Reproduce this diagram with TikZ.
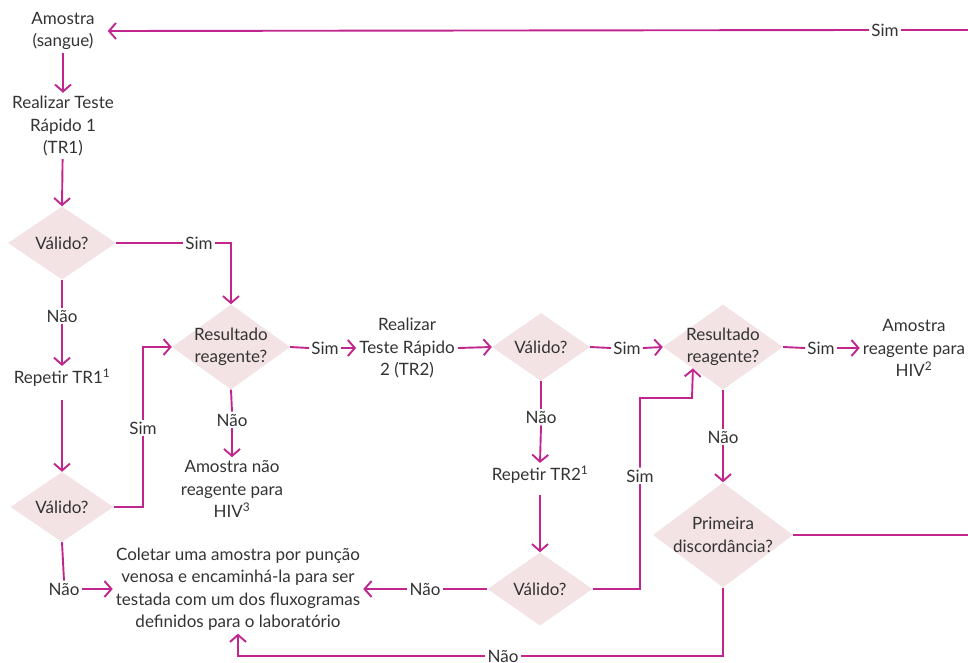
\documentclass[tikz,border=0pt]{standalone}
\usepackage{fontspec}
\setmainfont{Lato}
\usetikzlibrary{arrows.meta,shapes.geometric}
\definecolor{fio}{HTML}{C0268E}
\definecolor{rosa}{HTML}{F3E3E4}
\definecolor{tinta}{HTML}{333333}
\begin{document}
\begin{tikzpicture}[x=1pt,y=-1pt,>={Straight Barb[length=7pt,width=16pt]},
  fluxo/.style={draw=fio,line width=1.9pt},
  passo/.style={align=center,text=tinta,inner sep=3pt,font=\fontsize{17}{22.5}\selectfont},
  rotulo/.style={text=tinta,inner sep=2pt,font=\fontsize{17}{20}\selectfont},
  decisao/.style n args={2}{diamond,fill=rosa,inner sep=0pt,minimum width=#1,minimum height=#2}]
  \useasboundingbox (0,0) rectangle (968,662);

  % Losangos
  \node[decisao={108}{73}] (v1) at (62,243) {};
  \node[decisao={103}{70}] (v2) at (62,507) {};
  \node[decisao={118}{85}] (r1) at (231,347) {};
  \node[decisao={98}{68}] (v3) at (541,347) {};
  \node[decisao={105}{73}] (v4) at (540,589) {};
  \node[decisao={120}{85}] (r2) at (723,347) {};
  \node[decisao={140}{105}] (pd) at (723,535) {};
  \foreach \d in {v1,v2,v3,v4} {
    \node[passo] (\d t) at (\d) {Válido?};
  }
  \node[passo] (r1t) at (r1) {Resultado\\reagente?};
  \node[passo] (r2t) at (r2) {Resultado\\reagente?};
  \node[passo] (pdt) at (pd) {Primeira\\discordância?};

  % Etapas
  \node[passo] (amostra) at (63,31) {Amostra\\(sangue)};
  \node[passo] (tr1) at (63,126) {Realizar Teste\\Rápido 1\\(TR1)};
  \node[passo] (rep1) at (62,378) {Repetir TR1\textsuperscript{1}};
  \node[passo] (nreag) at (232,489) {Amostra não\\reagente para\\HIV\textsuperscript{3}};
  \node[passo] (tr2) at (407,348) {Realizar\\Teste Rápido\\2 (TR2)};
  \node[passo] (rep2) at (540,475) {Repetir TR2\textsuperscript{1}};
  \node[passo] (reag) at (914,348) {Amostra\\reagente para\\HIV\textsuperscript{2}};
  \node[passo] (coletar) at (238,589) {Coletar uma amostra por punção\\venosa e encaminhá-la para ser\\testada com um dos fluxogramas\\definidos para o laboratório};

  % Rotulos
  \node[rotulo] (sim1) at (199,243) {Sim};
  \node[rotulo] (nao1) at (62,316) {Não};
  \node[rotulo] (sim2) at (143,428) {Sim};
  \node[rotulo] (nao2) at (64,589) {Não};
  \node[rotulo] (sim3) at (325,348) {Sim};
  \node[rotulo] (nao3) at (232,420) {Não};
  \node[rotulo] (sim4) at (627,348) {Sim};
  \node[rotulo] (nao4) at (541,417) {Não};
  \node[rotulo] (nao5) at (425,589) {Não};
  \node[rotulo] (sim5) at (640,476) {Sim};
  \node[rotulo] (sim6) at (821,348) {Sim};
  \node[rotulo] (nao6) at (723,437) {Não};
  \node[rotulo] (nao7) at (503,656) {Não};
  \node[rotulo] (sim7) at (885,30) {Sim};

  \coordinate (borda1) at (968,535);
  \coordinate (borda2) at (968,30);
  \coordinate (c5) at (692,398);

  % Ligacoes
  \draw[fluxo,->] (amostra) -- (tr1);
  \draw[fluxo,->] (tr1) -- (v1.north);
  \draw[fluxo] (v1.east) -- (sim1.west);
  \draw[fluxo,->] (sim1.east) -| (r1.north);
  \draw[fluxo] (v1.south) -- (nao1.north);
  \draw[fluxo,->] (nao1.south) -- (rep1.north);
  \draw[fluxo,->] (rep1.south) ++(0,10) -- (v2.north);
  \draw[fluxo] (v2.east) -| (sim2.south);
  \draw[fluxo,->] (sim2.north) |- (r1.west);
  \draw[fluxo] (v2.south) -- (nao2.north);
  \draw[fluxo,->] (nao2.east) -- (coletar.west);
  \draw[fluxo] (r1.east) -- (sim3.west);
  \draw[fluxo,->] (sim3.east) -- (tr2.west);
  \draw[fluxo] (r1.south) -- (nao3.north);
  \draw[fluxo,->] (nao3.south) -- (nreag.north);
  \draw[fluxo,->] (tr2.east) -- (v3.west);
  \draw[fluxo] (v3.east) -- (sim4.west);
  \draw[fluxo,->] (sim4.east) -- (r2.west);
  \draw[fluxo] (v3.south) -- (nao4.north);
  \draw[fluxo,->] (nao4.south) -- (rep2.north);
  \draw[fluxo,->] (rep2.south) ++(0,8) -- (v4.north);
  \draw[fluxo] (v4.west) -- (nao5.east);
  \draw[fluxo,->] (nao5.west) -- (coletar.east);
  \draw[fluxo] (v4.east) -| (sim5.south);
  \draw[fluxo,->] (sim5.north) |- (c5) -- (r2.south west);
  \draw[fluxo] (r2.east) -- (sim6.west);
  \draw[fluxo,->] (sim6.east) -- (reag.west);
  \draw[fluxo] (r2.south) -- (nao6.north);
  \draw[fluxo,->] (nao6.south) -- (pd.north);
  \draw[fluxo] (pd.east) -- (borda1);
  \draw[fluxo] (pd.south) |- (nao7.east);
  \draw[fluxo,->] (nao7.west) -| (coletar.south);
  \draw[fluxo] (borda2) -- (sim7.east);
  \draw[fluxo,->] (sim7.west) -- ([xshift=10pt]amostra.east);
\end{tikzpicture}
\end{document}
